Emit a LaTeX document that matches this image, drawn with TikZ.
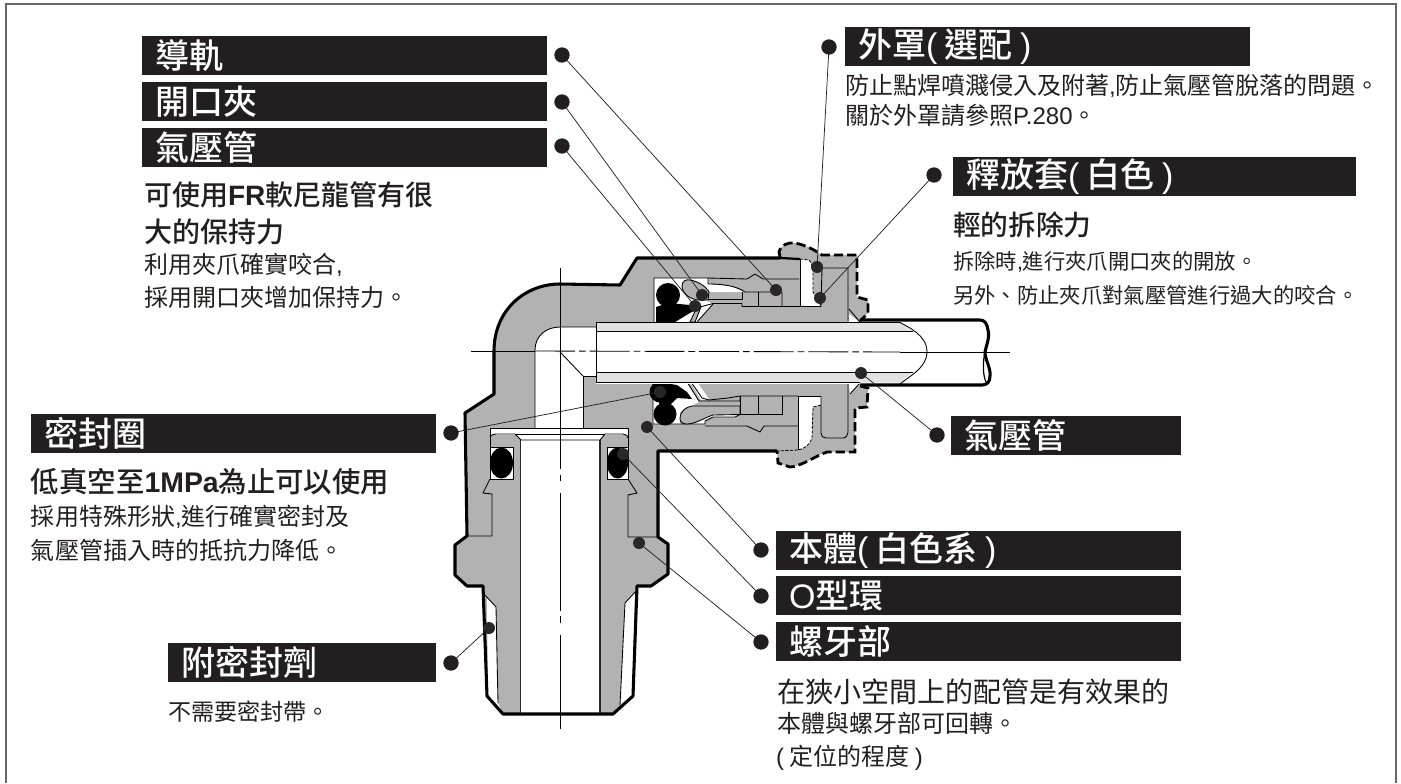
\documentclass[tikz,border=0pt]{standalone}
\usepackage{fontspec}
\newfontfamily\cjk{Noto Sans CJK TC}
\newfontfamily\cjkm{Noto Sans CJK TC Medium}
\newfontfamily\ltn{Liberation Sans}
\newcommand\lt[1]{{\ltn #1}}
\newcommand\ltb[1]{{\ltn\bfseries #1}}
\newcommand\gp{\hspace{5.5pt}}
\definecolor{ink}{HTML}{231F20}
\definecolor{metal}{HTML}{B2B2B2}
\definecolor{stripe}{HTML}{E2E2E2}
\tikzset{
  barlab/.style={anchor=north west,fill=ink,text=white,inner xsep=9.75pt,inner ysep=0pt,outer sep=0pt,
    minimum height=29.25pt,text width=#1*0.75pt-19.5pt,align=left,font=\cjkm\fontsize{25.5}{25.5}\selectfont},
  tx/.style={anchor=west,inner sep=0pt,outer sep=0pt,text=ink,font=\cjk\fontsize{#1}{#1}\selectfont},
  txm/.style={anchor=west,inner sep=0pt,outer sep=0pt,text=ink,font=\cjkm\fontsize{#1}{#1}\selectfont},
  ldot/.style={circle,fill=ink,inner sep=0pt,minimum size=11.5pt,outer sep=0pt},
  tdot/.style={circle,fill=ink!92!gray,inner sep=0pt,minimum size=9pt,outer sep=0pt},
  leader/.style={draw=ink,line width=0.55pt},
  thick line/.style={draw=black,line width=2.3pt,line join=round},
  capdash/.style={draw=black,line width=2.1pt,dash pattern=on 7pt off 3pt},
  thin line/.style={draw=black,line width=0.65pt,line join=round},
  hair dash/.style={draw=black,line width=0.6pt,dash pattern=on 2.4pt off 1pt},
}
\begin{document}
\begin{tikzpicture}[x=0.75pt,y=-0.75pt]
\useasboundingbox (0,0) rectangle (1401,783);
% frame (its lower edge lies off the picture)
\draw[draw=black!60,line width=1pt] (6,783) -- (6,4) -- (1396,4) -- (1396,783);

% ---------- metal silhouette
\fill[metal] (637,258) -- (780,258) -- (779,252) .. controls (781,245) and (788,242) .. (795,243)
  .. controls (805,245) and (813,249) .. (822,255) -- (857,255) -- (857,297) -- (868,300) -- (868,313) -- (860,322)
  -- (860,385) -- (868,388) -- (867,407) -- (855,408) -- (855,452) -- (827,452)
  .. controls (815,456) and (800,467) .. (790,467) -- (778,463) -- (777,451) -- (658,451)
  -- (658,537) -- (668,544) -- (668,574) -- (651,586) -- (637,586) -- (633,696) -- (613,714) -- (503,714)
  -- (487,696) -- (483,586) -- (467,586) -- (455,575) -- (455,545) -- (467,536) -- (465,413) -- (494,394)
  -- (494,351) .. controls (494,310) and (525,284) .. (560,284) -- (620,285) -- cycle;

% ---------- sealant whites at the thread
\fill[white] (487,598) -- (496,607) -- (498,703) -- (503,714) -- (494,708) -- (488,695) -- cycle;
\fill[white] (635,592) -- (625,603) -- (620,705) -- (632,696) -- cycle;
\draw[thin line] (485,595) -- (496,607) -- (498,703);
\draw[thin line] (637,590) -- (625,603) -- (620,705);

% ---------- air passage and bore
\fill[white] (535,430) -- (535,350) .. controls (535,336) and (546,327) .. (560,327) -- (597,327)
  -- (597,376) -- (583,376) -- (583,430) -- cycle;
\draw[thin line] (535,428) -- (535,350) .. controls (535,336) and (546,327) .. (560,327) -- (596,327);
\draw[thin line] (583,428) -- (583,376) -- (596,376);
\draw[thin line] (560,352) -- (583,376);

% ---------- top strip, insert bore, O-ring pockets
\fill[white] (490,428) rectangle (628,434.5);
\fill[white] (515,434) -- (605,434) -- (600,440) -- (600,714) -- (521,714) -- (521,440) -- cycle;
\draw[thin line] (490,479) -- (490,428) -- (628,428) -- (628,479);
\draw[thin line] (490,437) .. controls (491,435) and (493,434) .. (496,434) -- (515,434) -- (521,440) -- (600,440) -- (605,434) -- (623,434) .. controls (626,434) and (628,436) .. (628,438);
\draw[thin line] (515,434) -- (605,434);
\draw[line width=1pt,draw=black!85] (520.5,440) -- (520.5,714);
\draw[line width=1pt,draw=black!85] (600,440) -- (600,714);
\fill[white] (490,447) rectangle (513,479);
\fill[white] (607,447) rectangle (628,479);
\draw[thin line] (490,447) rectangle (513,479);
\draw[thin line] (607,447) rectangle (628,479);
\fill[black] (501.5,463) ellipse [x radius=11.5,y radius=15.5];
\fill[black] (617.5,463) ellipse [x radius=10.5,y radius=15.5];
\draw[thin line] (490,479) -- (483,493) -- (492,494) -- (492,536) -- (467,536);
\draw[thin line] (628,479) -- (637,493) -- (628,495) -- (628,537) -- (658,537);

% ---------- upper seal cavity
\fill[white] (654,278) -- (708,278) -- (708,284) -- (730,286) -- (745,292) -- (708,292) -- (705,300)
  -- (713,304) -- (697,322) -- (654,322) -- cycle;
\draw[thin line] (654,322) -- (654,278) -- (708,278) -- (708,284) .. controls (720,284) and (735,285) .. (745,292) -- (782,292) -- (782,306);
\fill[black] (668,295) circle [radius=12];
\fill[black] (656,322) -- (656,307) -- (668,303) -- (690,305) -- (700,307) -- (675,322) -- cycle;
\filldraw[fill=metal,thin line] (690,322) -- (697,307) -- (701,307) -- (695,322) -- cycle;
\filldraw[fill=metal,thin line] (682,286) .. controls (682,281) and (686,279) .. (690,280)
  .. controls (697,281) and (706,286) .. (709,292) -- (708,300) -- (700,300)
  .. controls (690,300) and (682,293) .. (682,286) -- cycle;
\draw[thin line] (708,278) -- (747,279) -- (755,274) -- (763,279) -- (799,279);
\draw[thin line] (708,299) -- (742,299) -- (742,292);
\draw[thin line] (700,307) -- (713,303.5) -- (742,303.5) -- (742,306.5) -- (800,306.5);
\draw[thin line] (758,292) -- (758,306.5);
\draw[thin line] (713,304) -- (697,322);

% ---------- lower seal cavity
\fill[white] (653,382) -- (687,382) -- (699,402) -- (680,412) -- (680,424) -- (653,424) -- cycle;
\fill[white] (687,424) -- (705,424) -- (705,421) -- (713,417) -- (735,417) -- (741,414) -- (713,414) -- cycle;
\fill[white] (690,382) -- (697,382) -- (709,399) -- (701,400) -- cycle;
\draw[thin line] (653,382) -- (653,424) -- (705,424) -- (705,421) -- (713,417) -- (735,417) -- (741,414);
\fill[black] (665,414) circle [radius=11.5];
\fill[black] (660,392) circle [radius=10.5];
\fill[black] (655,386) -- (665,383) -- (677,385) -- (687,392) -- (692,399) -- (677,398) -- (671,404) -- (660,405) -- (655,395) -- cycle;
\filldraw[fill=metal,thin line] (680,419) .. controls (680,411) and (686,407) .. (692,406) -- (740,406) -- (740,414.5) -- (713,415)
  .. controls (704,418) and (695,424) .. (687,424) .. controls (683,424) and (680,422) .. (680,419) -- cycle;
\draw[thin line] (687,382) -- (699,401) -- (740,401) -- (740,396) -- (798,396);
\draw[thin line] (691,382) -- (702,398) -- (709,400) -- (728,398) -- (740,396);
\draw[thin line] (740,396) -- (740,414.5) -- (782,414.5);
\draw[thin line] (758,396) -- (758,414.5);
\draw[thin line] (782,396) -- (782,414.5);
\draw[thin line] (705,426) -- (747,426) -- (760,432) -- (764,426) -- (798,426);

% ---------- inner cap spaces
\fill[white] (800,259) -- (809,260) .. controls (812,263) and (813,268) .. (813,273) -- (813,292) -- (821,306) -- (800,306) -- cycle;
\fill[white] (798,396) -- (821,396) -- (821,405) -- (813,407) -- (812,438) .. controls (810,445) and (804,449) .. (798,450) -- cycle;
\draw[thin line] (800,259) -- (800,306.5) -- (821,306.5);
\draw[thin line] (798,396) -- (798,450);
\draw[hair dash] (800,259) -- (809,260) .. controls (812,263) and (813,268) .. (813,273) -- (813,292) -- (821,306);
\draw[hair dash] (821,405) -- (813,407) -- (812,438) .. controls (810,445) and (804,449) .. (798,450) -- (777,451);
\draw[thin line] (798,396) -- (821,396);
% release sleeve
\draw[thin line] (821,306.5) -- (822,268) -- (848,268) -- (848,321);
\draw[thin line] (821,396) -- (821,433) .. controls (821,436) and (823,438) .. (826,438) -- (843,438) .. controls (846,438) and (848,435) .. (848,431) -- (848,383);
\fill[white] (849,314) -- (859,322) -- (849,322) -- cycle;
\fill[white] (849,384) -- (859,384) -- (850,394) -- cycle;
\draw[thin line] (849,309) -- (860,322);
\draw[thin line] (850,394) -- (859,384);

% ---------- tube
\fill[white] (596,322) rectangle (860,384);
\fill[white] (860,320) -- (985,320) .. controls (989,325) and (990,335) .. (988,345) .. controls (986,355) and (990,372) .. (987,385) -- (860,385) -- cycle;
\fill[stripe] (596,322.5) -- (900,322.5) -- (913,331.5) -- (596,331.5) -- cycle;
\fill[stripe] (596,372) -- (913,372) -- (900,382.5) -- (596,382.5) -- cycle;
\draw[thin line] (596,322.5) -- (900,322.5) .. controls (908,327) and (927,335) .. (927,352) .. controls (927,368) and (908,377) .. (900,384);
\draw[thin line] (596,331.5) -- (913,331.5);
\draw[thin line] (596,372) -- (913,372);
\draw[thin line] (596,322.5) -- (596,382.5) -- (860,382.5);
\draw[thick line] (860,320) -- (980,320) .. controls (985,320) and (987,324) .. (988,330)
  .. controls (990,338) and (986,346) .. (985,352) .. controls (985,360) and (991,368) .. (990,376) .. controls (990,382) and (987,385) .. (982,385) -- (860,385);
\draw[line width=0.9pt,draw=black] (985,352) .. controls (983,360) and (982,376) .. (987,384);

% ---------- outer bold outline
\draw[thick line] (780,258) -- (637,258) -- (620,285) -- (560,284) .. controls (525,284) and (494,310) .. (494,351)
  -- (494,394) -- (465,413) -- (467,536) -- (455,545) -- (455,575) -- (467,586) -- (483,586) -- (487,696)
  -- (503,714) -- (613,714) -- (633,696) -- (637,586) -- (651,586) -- (668,574) -- (668,544) -- (658,537)
  -- (658,451) -- (777,451);
\draw[line width=1.7pt,draw=black] (780,258) -- (800,259);
% dashed cap outlines
\draw[capdash] (780,257) -- (779,252) .. controls (781,245) and (788,242) .. (795,243)
  .. controls (805,245) and (813,249) .. (822,255) -- (857,255) -- (857,297) -- (868,300) -- (868,313) -- (860,321);
\draw[capdash] (860,386) -- (868,388) -- (867,407) -- (855,408) -- (855,452) -- (827,452)
  .. controls (815,456) and (800,467) .. (790,467) -- (778,463) -- (777,451);

% ---------- centre lines
\draw[thin line] (560,268) -- (560,352);
\draw[thin line,dash pattern=on 88pt off 4pt on 5pt off 9pt] (560,352) -- (560,729);
\draw[thin line] (471,351) -- (535,351);
\draw[thin line,dash pattern=on 30pt off 3pt on 5pt off 3pt] (535,351) -- (900,352);
\draw[thin line] (900,352) -- (1010,352);

% ---------- labels
\node[barlab=405] (bGuide) at (142,36) {導軌};
\node[barlab=405] (bChuck) at (142,82) {開口夾};
\node[barlab=405] (bTubeL) at (142,128) {氣壓管};
\node[barlab=405] (bCover) at (845,27) {外罩\lt{(}\gp 選配\gp\lt{)}};
\node[barlab=403] (bRel) at (953,157) {釋放套\lt{(}\gp 白色\gp\lt{)}};
\node[barlab=230] (bTubeR) at (951,416) {氣壓管};
\node[barlab=405] (bBody) at (776,531) {本體\lt{(}\gp 白色系\gp\lt{)}};
\node[barlab=405] (bOring) at (776,576) {\lt{O}型環};
\node[barlab=405] (bThread) at (776,622) {螺牙部};
\node[barlab=405] (bSeal) at (31,414) {密封圈};
\node[barlab=268] (bAdh) at (168,643) {附密封劑};

% ---------- texts
\node[txm=21] (t1) at (144,195) {可使用\ltb{FR}軟尼龍管有很};
\node[txm=21] (t2) at (144,232) {大的保持力};
\node[tx=18] (t3) at (144,265) {利用夾爪確實咬合\lt{,}};
\node[tx=18] (t4) at (144,297) {採用開口夾增加保持力。};
\node[tx=18] (t5) at (845,86) {防止點焊噴濺侵入及附著\lt{,}防止氣壓管脫落的問題。};
\node[tx=18] (t6) at (845,115) {關於外罩請參照\lt{P.280}。};
\node[txm=20.8] (t7) at (953,225) {輕的拆除力};
\node[tx=16] (t8) at (953,262) {拆除時\lt{,}進行夾爪開口夾的開放。};
\node[tx=16] (t9) at (953,295) {另外、防止夾爪對氣壓管進行過大的咬合。};
\node[txm=21.3] (t10) at (31,482) {低真空至\ltb{1MPa}為止可以使用};
\node[tx=18] (t11) at (31,517) {採用特殊形狀\lt{,}進行確實密封及};
\node[tx=18] (t12) at (31,550) {氣壓管插入時的抵抗力降低。};
\node[tx=17.3] (t13) at (168,712) {不需要密封帶。};
\node[tx=21] (t14) at (777,692) {在狹小空間上的配管是有效果的};
\node[tx=18] (t15) at (777,723) {本體與螺牙部可回轉。};
\node[tx=18] (t16) at (776,758) {\lt{(} 定位的程度 \lt{)}};

% ---------- leaders
\node[ldot] (d1) at (562,55) {};
\node[ldot] (d2) at (562,102) {};
\node[ldot] (d3) at (562,146) {};
\node[ldot] (d4) at (829,47) {};
\node[ldot] (d5) at (934,175) {};
\node[ldot] (d6) at (937,435) {};
\node[ldot] (d7) at (761,550) {};
\node[ldot] (d8) at (761,596) {};
\node[ldot] (d9) at (761,642) {};
\node[ldot] (d10) at (451,433) {};
\node[ldot] (d11) at (451,663) {};
\node[tdot] (p1) at (776,290) {};
\node[tdot] (p2) at (702,295) {};
\node[tdot] (p3) at (695,306) {};
\node[tdot] (p4) at (817,267) {};
\node[tdot] (p5) at (820,298) {};
\node[tdot] (p6) at (861,373) {};
\node[tdot] (p7) at (647,427) {};
\node[tdot] (p8) at (623,454) {};
\node[tdot] (p9) at (639,543) {};
\node[tdot] (p10) at (660,392) {};
\node[tdot] (p11) at (489,628) {};
\draw[leader] (d1.center) -- (p1.center);
\draw[leader] (d2.center) -- (p2.center);
\draw[leader] (d3.center) -- (p3.center);
\draw[leader] (d4.center) -- (p4.center);
\draw[leader] (d5.center) -- (p5.center);
\draw[leader] (d6.center) -- (p6.center);
\draw[leader] (d7.center) -- (p7.center);
\draw[leader] (d8.center) -- (p8.center);
\draw[leader] (d9.center) -- (p9.center);
\draw[leader] (d10.center) -- (p10.center);
\draw[leader] (d11.center) -- (p11.center);
\end{tikzpicture}
\end{document}
